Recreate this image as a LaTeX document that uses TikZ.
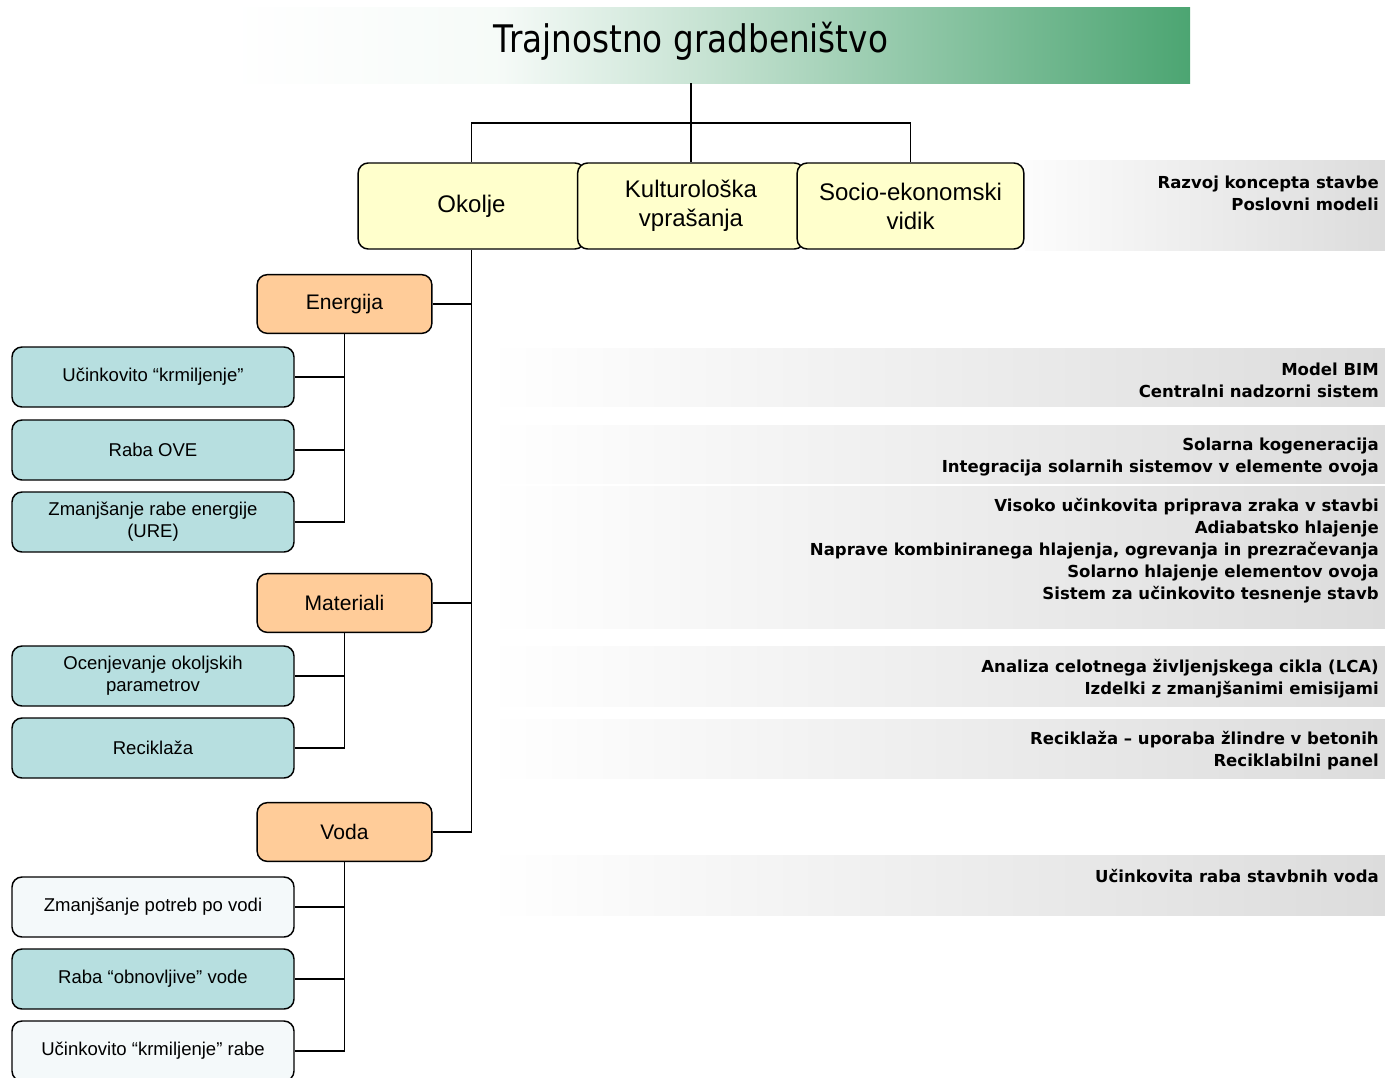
\documentclass[tikz,border=0pt]{standalone}
\usepackage{fontspec}
\setmainfont{Liberation Sans}
\newfontfamily\bandfont{DejaVu Sans}
\newfontfamily\titlefont[FakeStretch=0.86]{DejaVu Sans}
\usepackage{tikz}

\definecolor{titlegreen}{HTML}{4CA572}
\definecolor{pillarfill}{HTML}{FFFFCC}
\definecolor{themefill}{HTML}{FFCC99}
\definecolor{itemfill}{HTML}{B7DFE0}
\definecolor{paleitemfill}{HTML}{F4F9FA}
\definecolor{bandgray}{HTML}{DCDCDC}

\pgfdeclarehorizontalshading{bannershade}{100bp}{color(0bp)=(white); color(25bp)=(white); color(39bp)=(white!95!titlegreen); color(50bp)=(white!68!titlegreen); color(60bp)=(white!40!titlegreen); color(75bp)=(titlegreen); color(100bp)=(titlegreen)}

\tikzset{
  banner/.style={shading=bannershade, minimum width=721.5pt, minimum height=57pt, inner sep=0pt},
  pillar/.style={draw, line width=1.1pt, rounded corners=7.5pt, fill=pillarfill,
    minimum width=170pt, minimum height=64.5pt, align=center,
    font=\fontsize{18}{21.75}\selectfont},
  theme/.style={draw, line width=1.1pt, rounded corners=7.5pt, fill=themefill,
    minimum width=131pt, minimum height=44pt, font=\fontsize{15.8}{18}\selectfont},
  item/.style={draw, line width=1.1pt, rounded corners=7.5pt, fill=itemfill,
    minimum width=211.5pt, minimum height=45pt, align=center,
    font=\fontsize{13.9}{16.5}\selectfont},
  paleitem/.style={item, fill=paleitemfill},
  note/.style={anchor=east, align=right, inner sep=0pt,
    font=\bandfont\bfseries\fontsize{12.4}{16.5}\selectfont},
  link/.style={line width=1.4pt}
}

\begin{document}
\begin{tikzpicture}[x=0.75pt, y=-0.75pt]
\useasboundingbox (0,0) rectangle (1385,1078);

% grey bands behind the notes
\shade[left color=white!92!bandgray, right color=bandgray] (1025,160) rectangle (1385,250);
\shade[left color=white, right color=bandgray] (487,348) rectangle (1385,406);
\shade[left color=white, right color=bandgray] (487,425) rectangle (1385,483);
\shade[left color=white, right color=bandgray] (487,486) rectangle (1385,628);
\shade[left color=white, right color=bandgray] (487,646) rectangle (1385,706);
\shade[left color=white, right color=bandgray] (487,719) rectangle (1385,778);
\shade[left color=white, right color=bandgray] (487,855) rectangle (1385,915);

\draw (709,45) node[banner] (banner) {};
\draw (691,41) node[font=\titlefont\fontsize{28.5}{32}\selectfont] (title) {Trajnostno gradbeništvo};
\coordinate (split) at (691,123);

\draw (471.5,206) node[pillar] (okolje) {Okolje};
\draw (691,206) node[pillar] (kultura) {Kulturološka\\vprašanja};
\draw (910.5,206) node[pillar] (socio) {Socio-ekonomski\\vidik};

\draw (344.5,304) node[theme] (energija) {Energija};
\draw (344.5,603) node[theme] (materiali) {Materiali};
\draw (344.5,832) node[theme] (voda) {Voda};

\draw (153,377) node[item] (krmiljenje) {Učinkovito “krmiljenje”};
\draw (153,450) node[item] (ove) {Raba OVE};
\draw (153,522) node[item] (ure) {Zmanjšanje rabe energije\\(URE)};

\draw (153,676) node[item] (ocena) {Ocenjevanje okoljskih\\parametrov};
\draw (153,748) node[item] (reciklaza) {Reciklaža};

\draw (153,907) node[paleitem] (potrebe) {Zmanjšanje potreb po vodi};
\draw (153,979) node[item] (obnovljiva) {Raba “obnovljive” vode};
\draw (153,1051) node[paleitem] (raba) {Učinkovito “krmiljenje” rabe};

% notes on the right
\draw (1379,193) node[note] (posel) {Razvoj koncepta stavbe\\Poslovni modeli};
\draw (1379,380) node[note] (bim) {Model BIM\\Centralni nadzorni sistem};
\draw (1379,456.5) node[note] (solar) {Solarna kogeneracija\\Integracija solarnih sistemov v elemente ovoja};
\draw (1379,550.5) node[note] (zrak) {Visoko učinkovita priprava zraka v stavbi\\Adiabatsko hlajenje\\Naprave kombiniranega hlajenja, ogrevanja in prezračevanja\\Solarno hlajenje elementov ovoja\\Sistem za učinkovito tesnenje stavb};
\draw (1379,679) node[note] (lca) {Analiza celotnega življenjskega cikla (LCA)\\Izdelki z zmanjšanimi emisijami};
\draw (1379,751) node[note] (zlindra) {Reciklaža – uporaba žlindre v betonih\\Reciklabilni panel};
\draw (1379,876) node[note] (stavbnevode) {Učinkovita raba stavbnih voda};

\draw[link]
     (banner.south -| title) -- (split)
     (okolje.north) |- (split) -| (socio.north)
     (split) -- (kultura.north)

     (okolje.south) -- (okolje.south |- voda.east)
     (energija.east) -- (energija.east -| okolje.south)
     (materiali.east) -- (materiali.east -| okolje.south)
     (voda.east) -- (voda.east -| okolje.south)

     (energija.south) |- (krmiljenje.east)
     (energija.south) |- (ove.east)
     (energija.south) |- (ure.east)

     (materiali.south) |- (ocena.east)
     (materiali.south) |- (reciklaza.east)

     (voda.south) |- (potrebe.east)
     (voda.south) |- (obnovljiva.east)
     (voda.south) |- (raba.east) ;
\end{tikzpicture}
\end{document}
